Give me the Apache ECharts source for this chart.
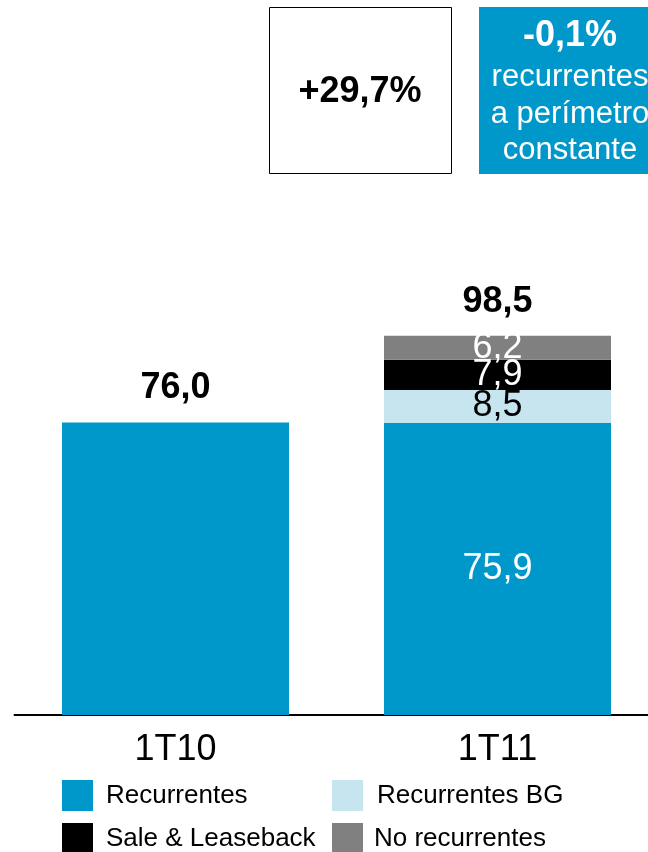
<!DOCTYPE html>
<html>
<head>
<meta charset="utf-8">
<script src="https://cdn.jsdelivr.net/npm/echarts@6/dist/echarts.min.js"></script>
<style>
html,body{margin:0;padding:0;background:#fff;}
#c{width:648px;height:852px;}
</style>
</head>
<body>
<div id="c"></div>
<script>
const categories = ['1T10', '1T11'];
const recurrentes = [76.0, 75.9];
const recurrentesBG = [null, 8.5];
const saleLeaseback = [null, 7.9];
const noRecurrentes = [null, 6.2];
const totals = [76.0, 98.5];
const seriesNames = ['Recurrentes', 'Recurrentes BG', 'Sale & Leaseback', 'No recurrentes'];
const boxLeftText = '+29,7%';
const boxRightLines = ['-0,1%', 'recurrentes', 'a perímetro', 'constante'];

const FONT = '"Liberation Sans", Arial, sans-serif';
const BLUE = '#0098CA';
const LIGHT = '#C6E5EF';
const BLACK = '#000000';
const GRAY = '#808080';

const fmt = v => (v == null ? '' : Number(v).toFixed(1).replace('.', ','));

function segLabel(color, showIdx) {
  return {
    show: true,
    position: 'inside',
    fontFamily: FONT,
    fontSize: 36,
    color: color,
    formatter: p => (showIdx.indexOf(p.dataIndex) >= 0 && p.value != null ? fmt(p.value) : '')
  };
}

function legendItem(name, left, top, gap) {
  return {
    data: [name],
    left: left, top: top,
    padding: 0,
    itemWidth: 31, itemHeight: 31,
    icon: 'rect',
    selectedMode: false,
    textStyle: {fontFamily: FONT, fontSize: 26, color: '#000', padding: [0, 0, 0, gap]}
  };
}

const chart = echarts.init(document.getElementById('c'), null, {renderer: 'canvas'});
chart.setOption({
  animation: false,
  backgroundColor: '#ffffff',
  grid: {left: 14.5, width: 644, top: 330, height: 385, outerBoundsMode: 'none', containLabel: false},
  xAxis: {
    type: 'category',
    data: categories,
    axisLine: {show: true, lineStyle: {color: '#000', width: 2}},
    axisTick: {show: false},
    axisLabel: {fontFamily: FONT, fontSize: 36, color: '#000', margin: 17}
  },
  yAxis: {
    type: 'value', min: 0, max: 100,
    show: false,
    splitLine: {show: false}
  },
  legend: [
    legendItem(seriesNames[0], 62, 780, 8),
    legendItem(seriesNames[2], 62, 823, 8),
    legendItem(seriesNames[1], 332, 780, 9),
    legendItem(seriesNames[3], 332, 823, 6)
  ],
  series: [
    {
      name: 'Total', type: 'bar', data: totals, barWidth: 227, barGap: '-100%',
      itemStyle: {color: 'rgba(0,0,0,0)'}, z: 1, silent: true,
      label: {show: true, position: 'top', distance: 16, fontFamily: FONT, fontSize: 36, fontWeight: 'bold', color: '#000', formatter: p => fmt(p.value)}
    },
    {
      name: seriesNames[0], type: 'bar', stack: 's', data: recurrentes, barWidth: 227, z: 2,
      itemStyle: {color: BLUE}, label: segLabel('#fff', [1])
    },
    {
      name: seriesNames[1], type: 'bar', stack: 's', data: recurrentesBG, barWidth: 227, z: 2,
      itemStyle: {color: LIGHT}, label: segLabel('#000', [1])
    },
    {
      name: seriesNames[2], type: 'bar', stack: 's', data: saleLeaseback, barWidth: 227, z: 2,
      itemStyle: {color: BLACK}, label: segLabel('#fff', [1])
    },
    {
      name: seriesNames[3], type: 'bar', stack: 's', data: noRecurrentes, barWidth: 227, z: 2,
      itemStyle: {color: GRAY}, label: segLabel('#fff', [1])
    }
  ],
  graphic: [
    {type: 'rect', shape: {x: 269.5, y: 7.5, width: 182, height: 166}, style: {fill: '#fff', stroke: '#000', lineWidth: 1}},
    {type: 'text', x: 360, y: 92, style: {text: boxLeftText, font: 'bold 36px ' + FONT, fill: '#000', textAlign: 'center', textVerticalAlign: 'middle'}},
    {type: 'rect', shape: {x: 479, y: 7, width: 182, height: 167}, style: {fill: BLUE}},
    {type: 'text', x: 570, y: 36, style: {text: boxRightLines[0], font: 'bold 36px ' + FONT, fill: '#fff', textAlign: 'center', textVerticalAlign: 'middle'}},
    {type: 'text', x: 570, y: 77, style: {text: boxRightLines[1], font: '31px ' + FONT, fill: '#fff', textAlign: 'center', textVerticalAlign: 'middle'}},
    {type: 'text', x: 570, y: 114, style: {text: boxRightLines[2], font: '31px ' + FONT, fill: '#fff', textAlign: 'center', textVerticalAlign: 'middle'}},
    {type: 'text', x: 570, y: 150, style: {text: boxRightLines[3], font: '31px ' + FONT, fill: '#fff', textAlign: 'center', textVerticalAlign: 'middle'}}
  ]
});
</script>
</body>
</html>
